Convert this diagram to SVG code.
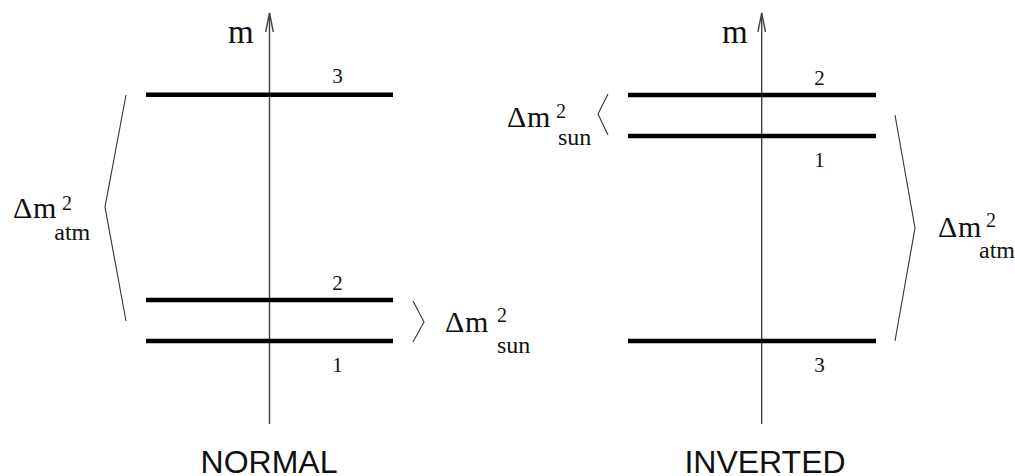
<svg xmlns="http://www.w3.org/2000/svg" width="1015" height="476" viewBox="0 0 1015 476">
  <style>
    text { fill: #111; }
    .rm { font-family: "Liberation Serif", "Times New Roman", Times, serif; }
    .greek { font-family: "Liberation Serif", "DejaVu Serif", serif; }
    .sans { font-family: "Liberation Sans", Arial, sans-serif; font-size: 32px; }
    .axis { stroke: #444; stroke-width: 1.4; fill: none; }
    .level { stroke: #000; stroke-width: 4.5; fill: none; }
    .brace { stroke: #333; stroke-width: 1.1; fill: none; stroke-linejoin: miter; }
    .num { font-size: 21px; text-anchor: middle; }
    .delta { font-size: 30px; }
    .em { font-size: 30px; }
    .sup { font-size: 20px; }
    .sub { font-size: 24px; }
    .axlabel { font-size: 33px; }
  </style>

  <!-- Normal ordering -->
  <g id="normal">
    <g id="normal-axis">
      <line class="axis" x1="269.5" y1="424" x2="269.5" y2="13"/>
      <polyline class="axis" points="265.7,32 269.5,13 273.3,32"/>
      <text class="rm axlabel" x="228" y="43">m</text>
    </g>
    <g id="normal-level-3">
      <line class="level" x1="146" y1="94.7" x2="393" y2="94.7"/>
      <text class="rm num" x="337.5" y="83">3</text>
    </g>
    <g id="normal-level-2">
      <line class="level" x1="146" y1="300" x2="393" y2="300"/>
      <text class="rm num" x="337.5" y="290">2</text>
    </g>
    <g id="normal-level-1">
      <line class="level" x1="146" y1="341" x2="393" y2="341"/>
      <text class="rm num" x="337.5" y="372">1</text>
    </g>
    <g id="normal-atm">
      <polyline class="brace" points="126,95 105,207 126,321"/>
      <text class="greek delta" x="13" y="218.3">Δ</text>
      <text class="rm em" x="33" y="218.3">m</text>
      <text class="rm sup" x="62" y="210">2</text>
      <text class="rm sub" x="54.3" y="240">atm</text>
    </g>
    <g id="normal-sun">
      <polyline class="brace" points="413,301 424,322 413,342"/>
      <text class="greek delta" x="445" y="331.7">Δ</text>
      <text class="rm em" x="465" y="331.7">m</text>
      <text class="rm sup" x="497" y="322">2</text>
      <text class="rm sub" x="497" y="352.7">sun</text>
    </g>
    <text id="normal-title" class="sans" x="269" y="473" text-anchor="middle">NORMAL</text>
  </g>

  <!-- Inverted ordering -->
  <g id="inverted">
    <g id="inverted-axis">
      <line class="axis" x1="761.7" y1="424" x2="761.7" y2="13"/>
      <polyline class="axis" points="757.9,32 761.7,13 765.5,32"/>
      <text class="rm axlabel" x="722" y="43">m</text>
    </g>
    <g id="inverted-level-2">
      <line class="level" x1="628" y1="95" x2="876" y2="95"/>
      <text class="rm num" x="819.5" y="85">2</text>
    </g>
    <g id="inverted-level-1">
      <line class="level" x1="628" y1="136" x2="876" y2="136"/>
      <text class="rm num" x="819.5" y="167">1</text>
    </g>
    <g id="inverted-level-3">
      <line class="level" x1="628" y1="341" x2="876" y2="341"/>
      <text class="rm num" x="819.5" y="372">3</text>
    </g>
    <g id="inverted-sun">
      <polyline class="brace" points="608,94 598,114 608,135"/>
      <text class="greek delta" x="507" y="126.5">Δ</text>
      <text class="rm em" x="527" y="126.5">m</text>
      <text class="rm sup" x="556" y="118">2</text>
      <text class="rm sub" x="558" y="145">sun</text>
    </g>
    <g id="inverted-atm">
      <polyline class="brace" points="895,115 915,228 895,341"/>
      <text class="greek delta" x="938" y="236.7">Δ</text>
      <text class="rm em" x="958" y="236.7">m</text>
      <text class="rm sup" x="986" y="226.7">2</text>
      <text class="rm sub" x="979" y="258.3">atm</text>
    </g>
    <text id="inverted-title" class="sans" x="765" y="473" text-anchor="middle">INVERTED</text>
  </g>
</svg>
